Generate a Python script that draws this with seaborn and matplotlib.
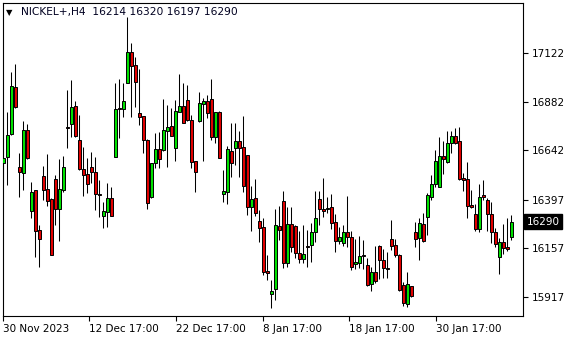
import matplotlib
matplotlib.use("Agg")
import matplotlib.pyplot as plt
import matplotlib.transforms as mtransforms
import numpy as np
import pandas as pd
import seaborn as sns

symbol_title = "NICKEL+,H4  16214 16320 16197 16290"

opens = [16579, 16609, 16722, 16954, 16559, 16530, 16742, 16342, 16446, 16248,
         16515, 16450, 16401, 16500, 16352, 16446, 16757, 16772, 16860, 16693,
         16549, 16525, 16559, 16534, 16426, 16317, 16337, 16406, 16609, 16851,
         16846, 16974, 17127, 17063, 16826, 16811, 16693, 16411, 16579, 16648,
         16643, 16737, 16762, 16653, 16831, 16860, 16890, 16791, 16589, 16786,
         16870, 16885, 16895, 16707, 16831, 16426, 16436, 16638, 16653, 16688,
         16658, 16618, 16362, 16406, 16292, 16263, 16046, 15932, 15957, 16268,
         16391, 16085, 16278, 16268, 16134, 16105, 16169, 16174, 16238, 16401,
         16352, 16352, 16362, 16288, 16194, 16184, 16238, 16213, 16080, 16085,
         16125, 16075, 15981, 16041, 16169, 16100, 16060, 16204, 16174, 16125,
         15976, 15883, 15971, 16238, 16209, 16278, 16312, 16411, 16475, 16460,
         16614, 16584, 16678, 16712, 16688, 16505, 16500, 16372, 16327, 16253,
         16421, 16396, 16327, 16238, 16115, 16189, 16164, 16214]
highs = [16702, 16831, 17028, 17068, 16628, 16786, 16772, 16485, 16446, 16273,
         16564, 16623, 16406, 16520, 16599, 16614, 16939, 16989, 16885, 16816,
         16658, 16604, 16633, 16609, 16495, 16386, 16480, 16460, 16974, 16994,
         16974, 17300, 17172, 17102, 17043, 16811, 16697, 16579, 16727, 16732,
         16895, 16865, 16851, 16890, 17018, 16974, 16964, 16816, 16589, 16930,
         16900, 16915, 16994, 16831, 16836, 16544, 16663, 16776, 16776, 16737,
         16811, 16618, 16465, 16500, 16347, 16307, 16125, 16001, 16352, 16367,
         16441, 16362, 16362, 16273, 16243, 16273, 16248, 16283, 16441, 16441,
         16505, 16411, 16426, 16327, 16263, 16273, 16416, 16243, 16204, 16218,
         16199, 16110, 16065, 16169, 16174, 16154, 16139, 16297, 16204, 16129,
         15991, 16041, 15971, 16288, 16307, 16332, 16431, 16520, 16643, 16707,
         16688, 16737, 16737, 16752, 16757, 16530, 16584, 16446, 16376, 16475,
         16495, 16406, 16386, 16258, 16209, 16278, 16307, 16320]
lows = [16480, 16470, 16717, 16851, 16411, 16446, 16599, 16307, 16115, 16065,
        16396, 16367, 16125, 16273, 16194, 16436, 16653, 16707, 16707, 16544,
        16416, 16431, 16480, 16347, 16312, 16258, 16263, 16317, 16609, 16702,
        16806, 16974, 16806, 16856, 16767, 16628, 16352, 16406, 16554, 16554,
        16638, 16559, 16712, 16589, 16831, 16776, 16786, 16554, 16436, 16781,
        16589, 16801, 16693, 16678, 16604, 16386, 16376, 16510, 16569, 16510,
        16436, 16322, 16243, 16317, 16189, 16026, 16001, 15863, 15902, 16199,
        16060, 16065, 16139, 16110, 16085, 16085, 16065, 16090, 16189, 16273,
        16312, 16332, 16253, 16139, 16179, 16169, 16164, 16050, 16055, 16060,
        16055, 15971, 15947, 15986, 16006, 16011, 16011, 16149, 16115, 15947,
        15873, 15868, 15917, 16164, 16100, 16189, 16223, 16396, 16460, 16460,
        16525, 16579, 16628, 16673, 16495, 16441, 16307, 16357, 16243, 16238,
        16396, 16243, 16184, 16164, 16031, 16129, 16144, 16197]
closes = [16604, 16717, 16959, 16856, 16534, 16742, 16604, 16436, 16243, 16204,
          16446, 16391, 16125, 16352, 16450, 16559, 16752, 16856, 16712, 16549,
          16520, 16475, 16534, 16426, 16421, 16342, 16406, 16317, 16846, 16846,
          16885, 17127, 17058, 16979, 16806, 16693, 16381, 16579, 16648, 16599,
          16742, 16757, 16712, 16836, 16860, 16776, 16791, 16584, 16534, 16875,
          16885, 16826, 16707, 16831, 16604, 16441, 16648, 16579, 16688, 16653,
          16465, 16362, 16401, 16332, 16258, 16041, 16036, 15947, 16273, 16248,
          16085, 16278, 16164, 16134, 16105, 16129, 16166, 16238, 16307, 16352,
          16342, 16357, 16283, 16194, 16213, 16238, 16213, 16065, 16090, 16120,
          16122, 15976, 16041, 15996, 16100, 16060, 16057, 16169, 16125, 15952,
          15887, 15981, 15922, 16204, 16283, 16194, 16421, 16475, 16589, 16614,
          16599, 16678, 16712, 16678, 16500, 16495, 16367, 16362, 16253, 16411,
          16411, 16327, 16238, 16179, 16189, 16159, 16154, 16290]

y_ticks = [17122, 16882, 16642, 16397, 16157, 15917]
x_tick_labels = ["30 Nov 2023", "12 Dec 17:00", "22 Dec 17:00",
                 "8 Jan 17:00", "18 Jan 17:00", "30 Jan 17:00"]
x_tick_bars = [-0.1, 21.5, 43.2, 64.85, 86.5, 108.2]
last_price = 16290

df = pd.DataFrame({"open": opens, "high": highs, "low": lows, "close": closes})
df["bar"] = np.arange(len(df))

sns.set_style("white")
plt.rcParams["font.family"] = ["DejaVu Sans"]

fig = plt.figure(figsize=(5.8, 3.4), dpi=100)
ax = fig.add_axes([2.7 / 580, 24 / 340, (523.3 - 2.7) / 580, (316 - 2.7) / 340])

up = df["close"] >= df["open"]
# wicks
ax.vlines(df["bar"], df["low"], df["high"], color="black", linewidth=0.75, zorder=2)
# bodies
bottoms = np.minimum(df["open"], df["close"])
heights = np.maximum(np.abs(df["close"] - df["open"]), 1.0)
colors = np.where(up, "#00e000", "#e00000")
ax.bar(df["bar"], heights, bottom=bottoms, width=0.62, color=colors,
       edgecolor="black", linewidth=0.7, zorder=3)

ax.set_xlim(-0.15, 130.0)
ax.set_ylim(15823.3, 17370.7)

for s in ax.spines.values():
    s.set_color("black")
    s.set_linewidth(0.8)

ax.yaxis.tick_right()
ax.set_yticks(y_ticks)
ax.set_yticklabels([str(v) for v in y_ticks])
ax.tick_params(axis="y", which="both", right=True, left=False, length=3.5,
               width=0.8, direction="out", labelsize=7.5, pad=2.5, colors="black")
ax.set_xticks(x_tick_bars)
ax.set_xticklabels(x_tick_labels)
ax.tick_params(axis="x", bottom=True, length=3.5, width=0.8, direction="out",
               labelsize=7.5, pad=2, colors="black")
for lab in ax.get_xticklabels():
    lab.set_horizontalalignment("left")

# last price tag
trans = mtransforms.blended_transform_factory(ax.transAxes, ax.transData)
ax.text(1.006, last_price, str(last_price), transform=trans, ha="left", va="center",
        color="white", fontsize=7.5,
        bbox=dict(boxstyle="square,pad=0.28", fc="black", ec="black"),
        zorder=5, clip_on=False)

# title
ax.text(0.006, 0.969, "\u25BC", transform=ax.transAxes, ha="left", va="center",
        fontsize=6, color="#000000")
ax.text(0.036, 0.969, symbol_title, transform=ax.transAxes, ha="left", va="center",
        fontsize=7.7, color="#000020")

ax.grid(False)
fig.savefig("out.png", dpi=100, facecolor="white")
